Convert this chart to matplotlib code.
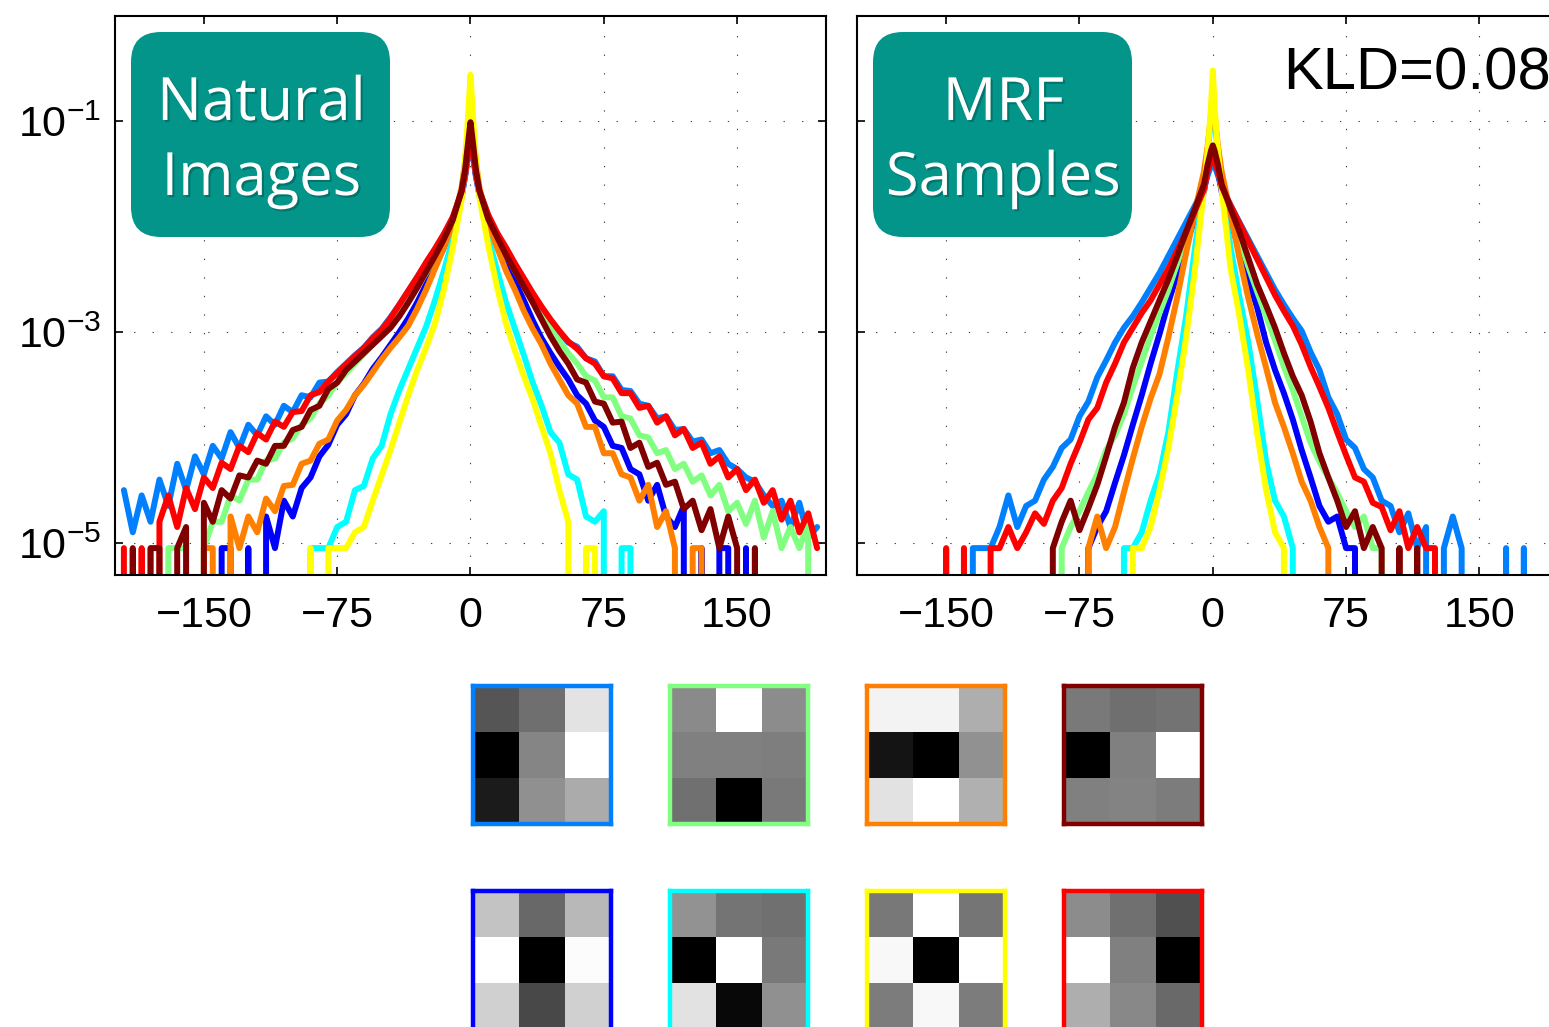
import numpy as np
import matplotlib
matplotlib.use("Agg")
import matplotlib.pyplot as plt
import matplotlib.patheffects as pe
from matplotlib.patches import FancyBboxPatch
from matplotlib.ticker import FixedLocator, FixedFormatter, NullLocator

plt.rcParams["font.family"] = ["Liberation Sans", "DejaVu Sans"]
plt.rcParams["mathtext.fontset"] = "custom"
plt.rcParams["mathtext.rm"] = "Liberation Sans"
plt.rcParams["mathtext.it"] = "Liberation Sans:italic"
plt.rcParams["mathtext.default"] = "regular"

# ---------------------------------------------------------------------------
# Histogram bin centres (filter response) and log10 densities per filter.
# None marks an empty bin.
# ---------------------------------------------------------------------------
bins_neg = list(range(-195, 0, 5))
bins_mid = [-3, -2, -1, 0, 1, 2, 3]
bins_pos = list(range(5, 200, 5))
bins = np.array(bins_neg + bins_mid + bins_pos)

# Natural images
nat_dodger = [-4.5, -4.9, -4.55, -4.8, -4.4, -4.65, -4.25, -4.5, -4.18, -4.35, -4.08, -4.2, -3.95,
              -4.1, -3.88, -3.98, -3.8, -3.88, -3.7, -3.76, -3.6, -3.62, -3.48, -3.47, -3.38, -3.3,
              -3.22, -3.15, -3.05, -2.97, -2.86, -2.74, -2.61, -2.48, -2.35, -2.22, -2.08, -1.92, -1.68,
              -1.5, -1.38, -1.25, -1.12, -1.25, -1.38, -1.5,
              -1.66, -1.9, -2.07, -2.21, -2.36, -2.5, -2.64, -2.77, -2.89, -3.0, -3.1, -3.14, -3.25,
              -3.28, -3.42, -3.42, -3.55, -3.56, -3.68, -3.7, -3.82, -3.8, -3.93, -3.92, -4.04, -4.02,
              -4.15, -4.12, -4.25, -4.3, -4.38, -4.42, -4.55, -4.65, -4.6, -4.85, -4.62, -4.95, -4.85]
nat_red = [-5.05, None, -5.05, None, -4.8, -4.55, -4.85, -4.48, -4.68, -4.38, -4.48, -4.24, -4.3,
           -4.08, -4.14, -3.96, -4.02, -3.85, -3.9, -3.76, -3.75, -3.6, -3.57, -3.47, -3.39, -3.31,
           -3.23, -3.15, -3.06, -2.98, -2.87, -2.74, -2.61, -2.48, -2.34, -2.21, -2.07, -1.91, -1.67,
           -1.5, -1.38, -1.26, -1.14, -1.26, -1.38, -1.5,
           -1.66, -1.89, -2.06, -2.2, -2.35, -2.49, -2.63, -2.76, -2.88, -2.99, -3.09, -3.16, -3.25,
           -3.3, -3.42, -3.44, -3.58, -3.58, -3.72, -3.7, -3.86, -3.8, -3.98, -3.92, -4.1, -4.05,
           -4.25, -4.18, -4.38, -4.3, -4.5, -4.4, -4.62, -4.5, -4.78, -4.6, -4.9, -4.72, -5.05]
nat_maroon = [None, -5.05, None, -5.05, -5.05, None, -5.05, -4.85, None, -4.62, -4.8, -4.5, -4.58,
              -4.36, -4.38, -4.22, -4.25, -4.08, -4.08, -3.93, -3.9, -3.74, -3.7, -3.54, -3.48, -3.36,
              -3.28, -3.2, -3.12, -3.04, -2.96, -2.85, -2.72, -2.58, -2.43, -2.28, -2.12, -1.94, -1.66,
              -1.45, -1.3, -1.15, -1.01, -1.15, -1.3, -1.45,
              -1.66, -1.93, -2.1, -2.27, -2.42, -2.57, -2.72, -2.88, -3.04, -3.18, -3.3, -3.45, -3.48,
              -3.66, -3.68, -3.86, -3.85, -4.1, -4.05, -4.28, -4.24, -4.45, -4.42, -4.68, -4.6, -4.88,
              -4.68, -5.05, -4.75, -5.05, None, -5.05, None, None, None, None, None, None, None]
nat_lgreen = [None, None, None, -5.05, None, -5.05, -5.05, -5.05, None, -5.05, -4.8, -4.8, -4.55,
              -4.6, -4.4, -4.4, -4.22, -4.2, -4.05, -4.01, -3.88, -3.82, -3.68, -3.6, -3.48, -3.39,
              -3.3, -3.21, -3.12, -3.04, -2.95, -2.84, -2.72, -2.58, -2.44, -2.29, -2.13, -1.95, -1.7,
              -1.5, -1.38, -1.26, -1.14, -1.26, -1.38, -1.5,
              -1.68, -1.93, -2.1, -2.26, -2.42, -2.56, -2.7, -2.85, -2.97, -3.09, -3.2, -3.3, -3.42,
              -3.46, -3.62, -3.62, -3.8, -3.82, -3.98, -4.0, -4.15, -4.12, -4.3, -4.25, -4.42, -4.36,
              -4.55, -4.45, -4.7, -4.62, -4.82, -4.6, -4.95, -4.7, -5.05, -4.85, -5.05, -4.8, None]
nat_blue = ([None] * 11 +
            [-5.05, -5.05, None, -5.05, None, -4.75, -5.05, -4.6, -4.75, -4.48, -4.38, -4.18, -4.07,
             -3.88, -3.78, -3.6, -3.49, -3.35, -3.24, -3.12, -3.0, -2.87, -2.72, -2.55, -2.38, -2.2,
             -1.98, -1.72,
             -1.52, -1.4, -1.28, -1.16, -1.28, -1.4, -1.52,
             -1.7, -1.97, -2.17, -2.35, -2.52, -2.7, -2.89, -3.06, -3.2, -3.33, -3.45, -3.6, -3.68,
             -3.84, -3.9, -4.08, -4.1, -4.3, -4.35, -4.6, -4.45, -4.75, -4.85, -4.65, None, -5.05,
             None, -5.05, -5.05, None, -5.05] + [None] * 8)
nat_orange = ([None] * 9 +
              [-5.05, -5.05, None, -4.75, -5.05, -4.75, -4.9, -4.58, -4.7, -4.46, -4.45, -4.25, -4.22,
               -4.06, -4.02, -3.84, -3.74, -3.6, -3.5, -3.38, -3.26, -3.15, -3.05, -2.94, -2.78, -2.6,
               -2.4, -2.2, -1.97, -1.63,
               -1.38, -1.2, -1.02, -0.84, -1.02, -1.2, -1.38,
               -1.63, -1.97, -2.2, -2.42, -2.6, -2.8, -2.97, -3.12, -3.3, -3.45, -3.6, -3.68, -3.9,
               -3.9, -4.15, -4.15, -4.35, -4.38, -4.6, -4.45, -4.85, -4.7, -5.05, None, -5.05, -5.05]
              + [None] * 13)
nat_cyan = ([None] * 21 +
            [-5.05, -5.05, -5.05, -4.85, -4.8, -4.5, -4.46, -4.2, -4.08, -3.78, -3.55, -3.35,
             -3.15, -2.95, -2.7, -2.42, -2.12, -1.72,
             -1.42, -1.27, -1.12, -0.95, -1.12, -1.27, -1.42,
             -1.7, -2.1, -2.42, -2.72, -2.97, -3.22, -3.48, -3.7, -3.95, -4.05, -4.35, -4.4, -4.75,
             -4.8, -4.7, None, -5.05, -5.05] + [None] * 21)
nat_yellow = ([None] * 21 +
              [-5.05, None, -5.05, -5.05, -5.05, -4.9, -4.85, -4.6, -4.36, -4.12, -3.86, -3.6,
               -3.36, -3.15, -2.92, -2.6, -2.2, -1.75,
               -1.35, -1.12, -0.85, -0.56, -0.85, -1.12, -1.35,
               -1.72, -2.18, -2.58, -2.92, -3.18, -3.42, -3.64, -3.9, -4.15, -4.5, -4.8, None,
               -5.05, -5.05] + [None] * 25)

# MRF samples
mrf_dodger = ([None] * 12 +
              [-5.05, -5.05, -5.05, -4.85, -4.55, -4.85, -4.65, -4.6, -4.4, -4.28, -4.1, -4.02,
               -3.8, -3.66, -3.43, -3.27, -3.1, -2.96, -2.85, -2.72, -2.58, -2.44, -2.28, -2.12,
               -1.96, -1.8, -1.63,
               -1.52, -1.47, -1.43, -1.40, -1.43, -1.47, -1.52,
               -1.63, -1.8, -1.96, -2.12, -2.28, -2.44, -2.6, -2.74, -2.87, -2.99, -3.19, -3.36,
               -3.62, -3.78, -4.02, -4.1, -4.3, -4.38, -4.6, -4.65, -4.9, -4.72, -5.05, -4.85,
               None, -5.05, -4.75, -5.05, None, None, None, None, -5.05, None, -5.05,
               None, None, None, None])
mrf_red = ([None] * 9 +
           [-5.05, None, -5.05, None, None, -5.05, -5.05, -4.85, -5.05, -4.9, -4.72, -4.82, -4.6,
            -4.48, -4.25, -4.05, -3.83, -3.72, -3.48, -3.3, -3.1, -2.96, -2.82, -2.7, -2.55, -2.4,
            -2.23, -2.05, -1.85, -1.65,
            -1.48, -1.43, -1.38, -1.34, -1.38, -1.43, -1.48,
            -1.62, -1.8, -1.97, -2.14, -2.31, -2.48, -2.65, -2.8, -2.94, -3.12, -3.33, -3.52, -3.72,
            -3.95, -4.17, -4.38, -4.42, -4.62, -4.66, -4.88, -4.7, -5.05, -4.85, -5.05, -5.05]
           + [None] * 14)
mrf_maroon = ([None] * 21 +
              [-5.05, -4.8, -4.6, -4.88, -4.67, -4.45, -4.18, -3.9, -3.67, -3.34, -3.1, -2.9, -2.7,
               -2.5, -2.28, -2.05, -1.83, -1.6,
               -1.42, -1.35, -1.28, -1.23, -1.28, -1.35, -1.42,
               -1.6, -1.83, -2.05, -2.3, -2.55, -2.75, -2.96, -3.2, -3.42, -3.6, -3.85, -4.15, -4.38,
               -4.6, -4.85, -4.7, -5.05, -4.85, -5.05, None, -5.05, None, -5.05] + [None] * 16)
mrf_lgreen = ([None] * 22 +
              [-5.05, -4.85, -4.7, -4.52, -4.35, -4.12, -3.98, -3.78, -3.52, -3.28, -3.04, -2.82,
               -2.6, -2.35, -2.1, -1.88, -1.64,
               -1.47, -1.4, -1.33, -1.27, -1.33, -1.4, -1.47,
               -1.64, -1.88, -2.12, -2.38, -2.62, -2.85, -3.08, -3.33, -3.55, -3.8, -4.05, -4.23,
               -4.38, -4.53, -4.7, -4.85, -4.75, -5.05, -5.05] + [None] * 20)
mrf_blue = ([None] * 25 +
            [-5.05, -4.85, -4.7, -4.43, -4.17, -3.88, -3.6, -3.3, -3.02, -2.72, -2.45, -2.17, -1.92,
             -1.67,
             -1.48, -1.4, -1.32, -1.25, -1.32, -1.4, -1.48,
             -1.67, -1.95, -2.22, -2.5, -2.77, -3.1, -3.36, -3.58, -3.83, -4.12, -4.38, -4.65, -4.8,
             -4.75, -5.05, -5.05] + [None] * 23)
mrf_orange = ([None] * 25 +
              [-5.05, -4.75, -5.05, -4.85, -4.52, -4.2, -3.9, -3.63, -3.4, -3.05, -2.67, -2.25,
               -1.85, -1.48,
               -1.25, -1.1, -0.95, -0.78, -0.95, -1.1, -1.25,
               -1.48, -1.88, -2.3, -2.68, -3.02, -3.34, -3.67, -3.9, -4.15, -4.42, -4.6, -4.85,
               -5.05] + [None] * 26)
mrf_cyan = ([None] * 29 +
            [-5.05, -5.05, -4.9, -4.6, -4.35, -3.95, -3.38, -2.85, -2.2, -1.6,
             -1.3, -1.15, -1.0, -0.85, -1.0, -1.15, -1.3,
             -1.6, -2.2, -2.67, -3.1, -3.65, -4.23, -4.6, -4.75, -5.05] + [None] * 30)
mrf_yellow = ([None] * 30 +
              [-5.05, -5.05, -4.85, -4.5, -4.1, -3.6, -3.05, -2.4, -1.65,
               -1.3, -1.1, -0.85, -0.52, -0.85, -1.1, -1.3,
               -1.65, -2.4, -2.85, -3.37, -3.97, -4.5, -4.9, -5.05] + [None] * 31)

# Draw order and colours of the eight filters
filter_names = ["dodger", "blue", "lgreen", "cyan", "orange", "yellow", "red", "maroon"]
filter_colors = {"dodger": "#0080ff", "blue": "#0000ff", "lgreen": "#80ff80", "cyan": "#00ffff",
                 "orange": "#ff8000", "yellow": "#ffff00", "red": "#ff0000", "maroon": "#800000"}
natural = {"dodger": nat_dodger, "blue": nat_blue, "lgreen": nat_lgreen, "cyan": nat_cyan,
           "orange": nat_orange, "yellow": nat_yellow, "red": nat_red, "maroon": nat_maroon}
mrf = {"dodger": mrf_dodger, "blue": mrf_blue, "lgreen": mrf_lgreen, "cyan": mrf_cyan,
       "orange": mrf_orange, "yellow": mrf_yellow, "red": mrf_red, "maroon": mrf_maroon}

# 3x3 filter weights (grey levels) shown under the plots
filt_dodger = [[85, 111, 227], [0, 133, 255], [27, 144, 171]]
filt_lgreen = [[138, 255, 140], [128, 128, 126], [112, 0, 122]]
filt_orange = [[243, 243, 174], [20, 0, 145], [226, 255, 176]]
filt_maroon = [[122, 111, 115], [0, 128, 255], [128, 132, 124]]
filt_blue = [[196, 104, 184], [255, 0, 252], [208, 72, 208]]
filt_cyan = [[146, 116, 112], [0, 255, 122], [226, 8, 144]]
filt_yellow = [[120, 255, 117], [248, 0, 255], [124, 248, 124]]
filt_red = [[140, 112, 80], [255, 128, 0], [174, 136, 106]]
filter_rows = [[("dodger", filt_dodger), ("lgreen", filt_lgreen), ("orange", filt_orange), ("maroon", filt_maroon)],
               [("blue", filt_blue), ("cyan", filt_cyan), ("yellow", filt_yellow), ("red", filt_red)]]

x_ticks = [-150, -75, 0, 75, 150]
y_ticks = [1e-5, 1e-3, 1e-1]
y_tick_labels = [r"$10^{-5}$", r"$10^{-3}$", r"$10^{-1}$"]

# ---------------------------------------------------------------------------
W, H = 1549, 1027
fig = plt.figure(figsize=(W / 100, H / 100), dpi=100)


def px_rect(x0, y0, x1, y1):
    return [x0 / W, 1 - y1 / H, (x1 - x0) / W, (y1 - y0) / H]


def density(vals):
    return np.array([0.0 if v is None else 10.0 ** v for v in vals])


def style_axes(ax, show_ylabels):
    ax.set_yscale("log", nonpositive="clip")
    ax.set_xlim(-200, 200)
    ax.set_ylim(10 ** -5.305, 1.0)
    ax.xaxis.set_major_locator(FixedLocator(x_ticks))
    ax.yaxis.set_major_locator(FixedLocator(y_ticks))
    ax.yaxis.set_minor_locator(NullLocator())
    ax.xaxis.set_minor_locator(NullLocator())
    if show_ylabels:
        ax.yaxis.set_major_formatter(FixedFormatter(y_tick_labels))
    else:
        ax.set_yticklabels([])
    ax.tick_params(axis="both", which="major", direction="in", length=6, width=1.2,
                   top=True, right=True, labelsize=31)
    ax.tick_params(axis="x", pad=15)
    ax.tick_params(axis="y", pad=10)
    for s in ax.spines.values():
        s.set_linewidth(1.5)
    ax.grid(True, which="major", color="#444444", linewidth=0.8, linestyle=(0, (1.2, 15.5)))
    ax.set_axisbelow(True)


for rect, data in [((115, 15.7, 826, 575), natural), ((857.3, 15.7, 1568.3, 575), mrf)]:
    ax = fig.add_axes(px_rect(*rect))
    style_axes(ax, data is natural)
    for name in filter_names:
        ax.plot(bins, density(data[name]), color=filter_colors[name], lw=4.3,
                solid_joinstyle="round", solid_capstyle="round")

# Filter thumbnails with coloured frames
col_left = [471, 668, 865, 1062]
row_top = [684, 889]
size = 142
for r, row in enumerate(filter_rows):
    for c, (name, weights) in enumerate(row):
        x0 = col_left[c] + 2
        y0 = row_top[r] + 2
        fax = fig.add_axes(px_rect(x0, y0, x0 + size - 4, y0 + size - 4))
        fax.imshow(np.array(weights), cmap="gray", vmin=0, vmax=255,
                   interpolation="nearest", aspect="auto")
        fax.set_xticks([])
        fax.set_yticks([])
        for s in fax.spines.values():
            s.set_edgecolor(filter_colors[name])
            s.set_linewidth(3.2)

# Overlay in pixel coordinates for the title badges and the KL divergence
ov = fig.add_axes([0, 0, 1, 1], zorder=10)
ov.set_xlim(0, W)
ov.set_ylim(H, 0)
ov.axis("off")

badge_color = "#03958a"
shadow = [pe.SimplePatchShadow(offset=(1.5, -1.5), shadow_rgbFace="black", alpha=0.22), pe.Normal()]
for (bx0, bx1), lines in [((131, 390), ["Natural", "Images"]), ((873, 1132), ["MRF", "Samples"])]:
    ov.add_patch(FancyBboxPatch((bx0, 32), bx1 - bx0, 205,
                                boxstyle="round,pad=0,rounding_size=30",
                                facecolor=badge_color, edgecolor="none"))
    cx = (bx0 + bx1) / 2 + 1
    for line, base in zip(lines, [120, 195]):
        ov.text(cx, base, line, ha="center", va="baseline", color="white",
                fontsize=43, family=["Open Sans", "DejaVu Sans"], path_effects=shadow)

ov.text(1283, 90, "KLD=0.08", ha="left", va="baseline", fontsize=43, color="black")

fig.savefig("out.png", dpi=100)
